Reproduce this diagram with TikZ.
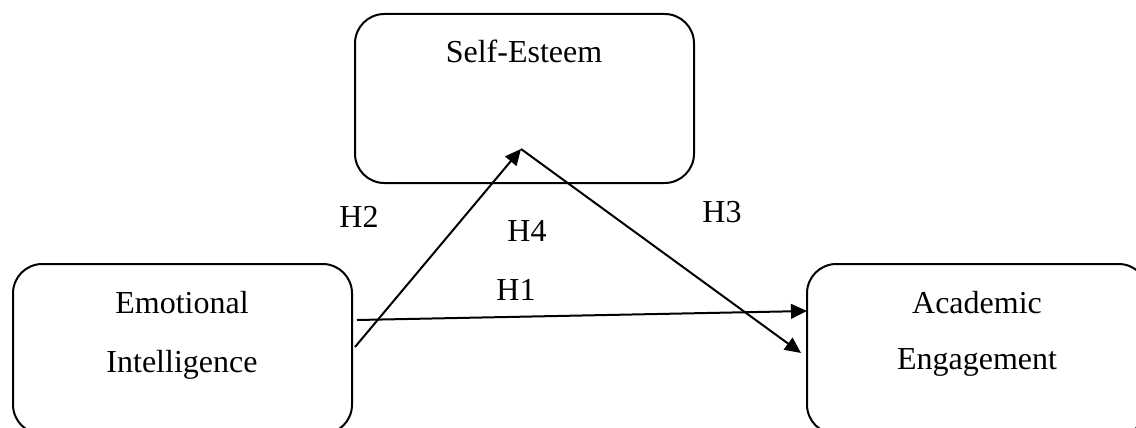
\documentclass[tikz,border=0pt]{standalone}
\usepackage{fontspec}
\setmainfont{Liberation Serif}
\usetikzlibrary{arrows.meta,fit}
\begin{document}
\begin{tikzpicture}[x=0.75pt,y=-0.75pt,
  box/.style={draw, line width=1.5pt, rounded corners=22pt, inner sep=0pt},
  lbl/.style={inner sep=0pt, anchor=base, font=\fontsize{24}{28}\selectfont},
  path/.style={draw, line width=1.5pt, -{Triangle[length=12pt,width=11pt]}}]
  \useasboundingbox (0,0) rectangle (1136,428);
  \clip (0,0) rectangle (1136,428);
  % construct boxes
  \node[box, fit={(355,14) (694,183)}] (se) {};
  \node[box, fit={(13,264) (352,434)}] (ei) {};
  \node[box, fit={(807,264) (1148,434)}] (ae) {};
  % box titles
  \node[lbl] (se-t) at (524,63) {Self-Esteem};
  \node[lbl] (ei-t1) at (182,313) {Emotional};
  \node[lbl] (ei-t2) at (182,372) {Intelligence};
  \node[lbl] (ae-t1) at (977,313) {Academic};
  \node[lbl] (ae-t2) at (977,369) {Engagement};
  % arrow end points
  \coordinate (h2s) at (355,347);
  \coordinate (mid) at (521,149);
  \coordinate (h1s) at (357,320);
  \coordinate (h1e) at (807,311);
  \coordinate (h3e) at (801,353);
  % hypothesised paths
  \draw[path] (h2s) -- (mid);
  \draw[path] (mid) -- (h3e);
  \draw[path] (h1s) -- (h1e);
  % path labels
  \node[lbl] (h2) at (359,227) {H2};
  \node[lbl] (h4) at (527,241) {H4};
  \node[lbl] (h3) at (722,222) {H3};
  \node[lbl] (h1) at (516,300) {H1};
\end{tikzpicture}
\end{document}
